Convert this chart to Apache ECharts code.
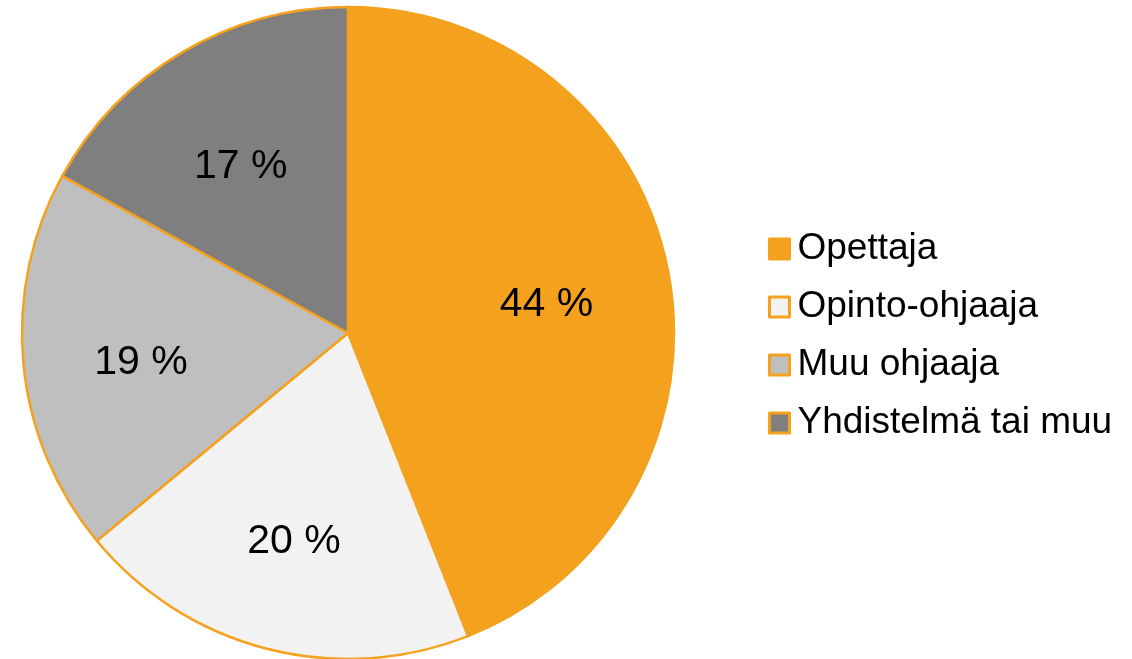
<!DOCTYPE html>
<html>
<head>
<meta charset="utf-8">
<title>Ohjaaja</title>
<script src="https://cdn.jsdelivr.net/npm/echarts@6/dist/echarts.min.js"></script>
<style>
  html, body { margin: 0; padding: 0; background: #fff; }
  #chart { width: 1132px; height: 659px; }
</style>
</head>
<body>
<div id="chart"></div>
<script>
// data
const categories = ['Opettaja', 'Opinto-ohjaaja', 'Muu ohjaaja', 'Yhdistelmä tai muu'];
const shares = [44, 20, 19, 17];
const colors = ['#F4A21E', '#F2F2F2', '#BFBFBF', '#7F7F7F'];

const edge = '#F4A21E';
const font = '"Liberation Sans", Arial, sans-serif';

const pieData = categories.map((name, i) => ({
  name,
  value: shares[i],
  itemStyle: { color: colors[i] }
}));

const chart = echarts.init(document.getElementById('chart'), null, { renderer: 'canvas' });
chart.setOption({
  animation: false,
  legend: {
    orient: 'vertical',
    left: 768,
    top: 229,
    padding: 0,
    data: categories,
    itemWidth: 20,
    itemHeight: 20,
    itemGap: 18,
    icon: 'rect',
    itemStyle: { borderColor: edge, borderWidth: 3 },
    textStyle: { fontFamily: font, fontSize: 37, color: '#000', lineHeight: 40, padding: [0, 0, 0, 3] }
  },
  series: [
    {
      type: 'pie',
      center: [348, 333],
      radius: [0, 326],
      startAngle: 90,
      clockwise: true,
      data: pieData,
      label: { show: false },
      labelLine: { show: false },
      itemStyle: { borderColor: edge, borderWidth: 2.5 },
      emphasis: { disabled: true }
    },
    {
      // invisible ring used only to put the percent labels at ~0.62 R
      type: 'pie',
      center: [348, 333],
      radius: [78, 326],
      startAngle: 90,
      clockwise: true,
      silent: true,
      data: categories.map((name, i) => ({ name, value: shares[i] })),
      itemStyle: { color: 'rgba(0,0,0,0)', borderWidth: 0 },
      label: {
        show: true,
        position: 'inside',
        formatter: '{c} %',
        fontFamily: font,
        fontSize: 41,
        color: '#000',
        offset: [-3, 10]
      },
      labelLine: { show: false },
      emphasis: { disabled: true }
    }
  ]
});
</script>
</body>
</html>
